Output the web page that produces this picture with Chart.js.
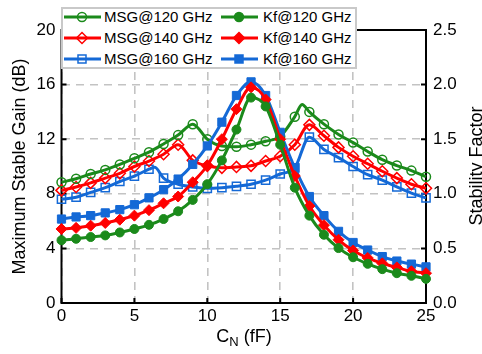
<!DOCTYPE html>
<html>
<head>
<meta charset="utf-8">
<script src="https://cdn.jsdelivr.net/npm/chart.js@4.4.1/dist/chart.umd.min.js"></script>
<style>
  html, body { margin: 0; padding: 0; background: #fff; overflow: hidden; }
  #wrap { position: relative; width: 482px; height: 354px; overflow: hidden; font-family: "Liberation Sans", Arial, sans-serif; }
  #chart { position: absolute; left: 0; top: 0; }
  #legendBox { position: absolute; left: 61px; top: 7px; width: 292px; height: 58px; background: #fff; border: 2px solid #c9c9c9; }
  .item { position: absolute; height: 20px; line-height: 20px; font-size: 15px; white-space: nowrap; }
  .item svg { position: absolute; left: 0; top: 0; }
  .item span { position: absolute; top: 0; }
  #xtitle { position: absolute; left: 0; top: 326px; width: 488px; text-align: center; font-size: 18px; line-height: 20px; }
  #xtitle sub { font-size: 13px; vertical-align: -4px; line-height: 0; }
  #y2title { position: absolute; left: 326px; top: 156px; width: 300px; height: 20px; line-height: 20px; text-align: center; font-size: 18px; transform: rotate(-90deg); white-space: nowrap; }
</style>
</head>
<body>
<div id="wrap">
  <canvas id="chart" width="482" height="354"></canvas>
  <div id="legendBox"></div>
  <div id="xtitle">C<sub>N</sub> (fF)</div>
  <div id="y2title">Stability Factor</div>
</div>
<script>
const cn = [0, 1, 2, 3, 4, 5, 6, 7, 8, 9, 10, 11, 12, 13, 14, 15, 16, 17, 18, 19, 20, 21, 22, 23, 24, 25];

// maximum stable gain, dB (left axis)
const msg120 = [8.85, 9.1, 9.45, 9.75, 10.15, 10.6, 11.05, 11.65, 12.3, 13.1, 12.0, 11.5, 11.45, 11.6, 11.85, 12.2, 13.65, 14.0, 13.1, 12.35, 11.75, 11.1, 10.5, 10.07, 9.7, 9.25];
const msg140 = [8.25, 8.5, 8.8, 9.15, 9.5, 10.0, 10.4, 10.9, 11.6, 10.45, 10.05, 9.9, 9.97, 10.05, 10.4, 10.75, 11.6, 13.05, 12.25, 11.4, 10.75, 10.2, 9.65, 9.15, 8.7, 8.4];
const msg160 = [7.6, 7.75, 8.1, 8.45, 8.9, 9.3, 9.8, 9.15, 8.7, 8.5, 8.4, 8.45, 8.55, 8.7, 9.0, 9.45, 9.9, 12.15, 11.25, 10.65, 10.0, 9.4, 9.0, 8.5, 8.05, 7.7];
// peaks that fall between markers [x, y]
const msg120Peak = [16.5, 14.55];
const msg160Peak = [6.4, 9.95];

// stability factor (right axis)
const kf120 = [0.575, 0.588, 0.604, 0.619, 0.646, 0.678, 0.716, 0.769, 0.84, 0.944, 1.088, 1.306, 1.588, 1.881, 1.8, 1.45, 1.056, 0.8, 0.625, 0.503, 0.419, 0.359, 0.31, 0.273, 0.249, 0.221];
const kf140 = [0.678, 0.688, 0.708, 0.733, 0.763, 0.8, 0.85, 0.913, 0.975, 1.106, 1.259, 1.5, 1.775, 1.975, 1.863, 1.5, 1.163, 0.888, 0.713, 0.579, 0.481, 0.413, 0.363, 0.326, 0.291, 0.273];
const kf160 = [0.769, 0.788, 0.8, 0.825, 0.855, 0.9, 0.963, 1.038, 1.135, 1.269, 1.438, 1.656, 1.9, 2.025, 1.9, 1.563, 1.238, 0.975, 0.8, 0.656, 0.554, 0.485, 0.425, 0.384, 0.356, 0.331];

const GREEN = '#1b8a1b';
const RED = '#ff0000';
const BLUE = '#1469d6';
const FONT = '"Liberation Sans", Arial, sans-serif';

function pts(ys, extra) {
  const p = cn.map((x, i) => ({ x: x, y: ys[i] }));
  if (extra) p.push({ x: extra[0], y: extra[1] });
  return p.sort((a, b) => a.x - b.x);
}

function series(label, data, color, shape, open, axis) {
  const r = shape === 'rect' ? 5.8 : shape === 'rectRot' ? 5.5 : 4.5;
  return {
    label: label,
    data: data,
    yAxisID: axis,
    borderColor: color,
    borderWidth: 3,
    pointStyle: shape,
    pointRadius: ctx => (ctx.raw && Number.isInteger(ctx.raw.x)) ? r : 0,
    pointBorderWidth: open ? 1.5 : 1,
    pointBorderColor: color,
    pointBackgroundColor: open ? 'rgba(255,255,255,0)' : color,
    cubicInterpolationMode: 'monotone',
    order: axis === 'y2' ? 0 : 1,
    clip: 8,
    legendCol: open ? 0 : 1
  };
}

const datasets = [
  series('MSG@120 GHz', pts(msg120, msg120Peak), GREEN, 'circle', true, 'y'),
  series('MSG@140 GHz', pts(msg140), RED, 'rectRot', true, 'y'),
  series('MSG@160 GHz', pts(msg160, msg160Peak), BLUE, 'rect', true, 'y'),
  series('Kf@120 GHz', pts(kf120), GREEN, 'circle', false, 'y2'),
  series('Kf@140 GHz', pts(kf140), RED, 'rectRot', false, 'y2'),
  series('Kf@160 GHz', pts(kf160), BLUE, 'rect', false, 'y2')
];

// black frame and inward ticks
const frame = {
  id: 'frame',
  beforeDatasetsDraw(chart) {
    const { ctx, chartArea: a, scales } = chart;
    ctx.save();
    ctx.strokeStyle = '#000';
    ctx.lineWidth = 2;
    ctx.strokeRect(a.left, a.top, a.right - a.left, a.bottom - a.top);
    ctx.beginPath();
    scales.y.ticks.forEach(t => {
      const py = scales.y.getPixelForValue(t.value);
      ctx.moveTo(a.left, py); ctx.lineTo(a.left + 5, py);
    });
    scales.y2.ticks.forEach(t => {
      const py = scales.y2.getPixelForValue(t.value);
      ctx.moveTo(a.right, py); ctx.lineTo(a.right - 5, py);
    });
    scales.x.ticks.forEach(t => {
      const px = scales.x.getPixelForValue(t.value);
      ctx.moveTo(px, a.bottom); ctx.lineTo(px, a.bottom - 5);
    });
    ctx.stroke();
    ctx.restore();
  }
};

const gridOpts = { color: '#c3c3c3', lineWidth: 1.6, drawTicks: false };
const tickFont = { family: FONT, size: 17 };

new Chart(document.getElementById('chart'), {
  type: 'line',
  data: { datasets: datasets },
  options: {
    responsive: false,
    animation: false,
    layout: { padding: { top: 30, left: 0, right: 0, bottom: 0 } },
    plugins: { legend: { display: false }, tooltip: { enabled: false } },
    scales: {
      x: {
        type: 'linear', min: 0, max: 25,
        ticks: { stepSize: 5, padding: 3, color: '#000', font: tickFont },
        grid: gridOpts,
        border: { display: false, dash: [8, 6] },
        afterFit: s => { s.height = 51; }
      },
      y: {
        position: 'left', min: 0, max: 20,
        ticks: { stepSize: 4, padding: 6, color: '#000', font: tickFont },
        grid: gridOpts,
        border: { display: false, dash: [8, 6] },
        title: { display: true, text: 'Maximum Stable Gain (dB)', color: '#000', font: { family: FONT, size: 18 }, padding: { top: 9 } },
        afterFit: s => { s.width = 61.5; }
      },
      y2: {
        position: 'right', min: 0, max: 2.5,
        ticks: { stepSize: 0.5, padding: 7, color: '#000', font: tickFont, callback: v => v.toFixed(1) },
        grid: { display: false, drawTicks: false },
        border: { display: false },
        afterFit: s => { s.width = 56; }
      }
    }
  },
  plugins: [frame]
});

// legend: two columns, MSG left, Kf right
const wrap = document.getElementById('wrap');
const rowY = [7, 28, 49];
const colSw = [64, 221];
const colTx = [104, 263];
let rows = [0, 0];
datasets.forEach(ds => {
  const c = ds.legendCol;
  const row = rows[c]++;
  const item = document.createElement('div');
  item.className = 'item';
  item.style.left = colSw[c] + 'px';
  item.style.top = rowY[row] + 'px';
  const col = ds.borderColor;
  const fill = ds.pointBackgroundColor;
  let mark;
  if (ds.pointStyle === 'circle') mark = `<circle cx="18" cy="10" r="4.5" fill="${fill}" stroke="${col}" stroke-width="1.5"/>`;
  else if (ds.pointStyle === 'rectRot') mark = `<polygon points="12.5,10 18,4.5 23.5,10 18,15.5" fill="${fill}" stroke="${col}" stroke-width="1.5"/>`;
  else mark = `<rect x="14" y="6" width="8" height="8" fill="${fill}" stroke="${col}" stroke-width="1.5"/>`;
  item.innerHTML = `<svg width="37" height="20"><line x1="0" y1="10" x2="37" y2="10" stroke="${col}" stroke-width="3"/>${mark}</svg>` +
    `<span style="left:${colTx[c] - colSw[c]}px">${ds.label}</span>`;
  wrap.appendChild(item);
});
</script>
</body>
</html>
